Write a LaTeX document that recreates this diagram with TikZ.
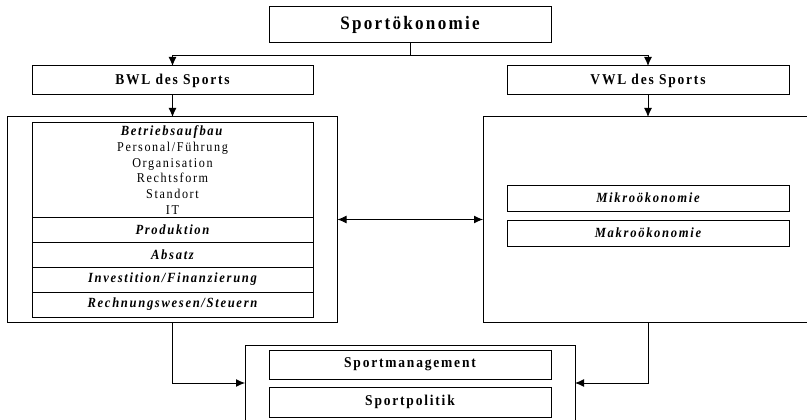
\documentclass[tikz,border=0pt]{standalone}
\usepackage{fontspec}
\setmainfont{Liberation Serif}[LetterSpace=12,FakeStretch=0.9]
\usetikzlibrary{arrows.meta,positioning}

\begin{document}
\begin{tikzpicture}[
    x=1pt,y=-1pt,
    node distance=0pt,
    >={Latex[length=9pt,width=8pt]},
    line width=0.9pt,
    box/.style={rectangle,draw,line width=1pt,align=center,inner sep=0pt,outer sep=0pt,font=\fontsize{15}{17}\selectfont\bfseries},
    feld/.style={box,minimum width=281pt,minimum height=25pt,font=\fontsize{14}{16}\selectfont\bfseries\itshape},
    rahmen/.style={box,minimum width=330pt,minimum height=205pt}]
    \useasboundingbox (0,0) rectangle (807,420);
    \node[box,minimum width=282pt,minimum height=36pt,font=\fontsize{19}{22}\selectfont\bfseries] (oek) at (410,25) {Sportökonomie};
    \node[box,minimum width=281pt,minimum height=29pt] (bwl) at (172.5,80.5) {BWL des Sports};
    \node[box,minimum width=282pt,minimum height=29pt] (vwl) at (648,80.5) {VWL des Sports};
    \node[rahmen] (bwlr) at (172.5,219.5) {};
    \node[rahmen] (vwlr) at (648,219.5) {};
    % Teilgebiete BWL
    \node[feld,minimum height=94pt,anchor=north,font=\fontsize{13.5}{15.7}\selectfont] (aufbau) at (172.5,123)
      {\textbf{\textit{\fontsize{14}{15.7}\selectfont Betriebsaufbau}}\\Personal/Führung\\Organisation\\Rechtsform\\Standort\\IT};
    \node[feld,below=of aufbau] (prod) {Produktion};
    \node[feld,below=of prod] (absatz) {Absatz};
    \node[feld,below=of absatz] (invest) {Investition/Finanzierung};
    \node[feld,below=of invest] (rewe) {Rechnungswesen/Steuern};
    % Teilgebiete VWL
    \node[feld,minimum width=282pt,minimum height=26pt] (mikro) at (648,198) {Mikroökonomie};
    \node[feld,minimum width=282pt,minimum height=26pt,below=9pt of mikro] (makro) {Makroökonomie};
    % Anwendungsfelder
    \node[box,minimum width=330pt,minimum height=76pt] (ziel) at (410,383) {};
    \node[box,minimum width=282pt,minimum height=29pt] (mgmt) at (410,364.5) {Sportmanagement};
    \node[box,minimum width=282pt,minimum height=30pt,below=8pt of mgmt] (politik) {Sportpolitik};

    \coordinate (split) at (410,55);
    \draw (oek) -- (split);
    \draw[->] (split) -| (bwl);
    \draw[->] (split) -| (vwl);
    \draw[->] (bwl) -- (bwlr);
    \draw[->] (vwl) -- (vwlr);
    \draw[<->] (bwlr) -- (vwlr);
    \draw[->] (bwlr) |- (ziel);
    \draw[->] (vwlr) |- (ziel);
\end{tikzpicture}
\end{document}
